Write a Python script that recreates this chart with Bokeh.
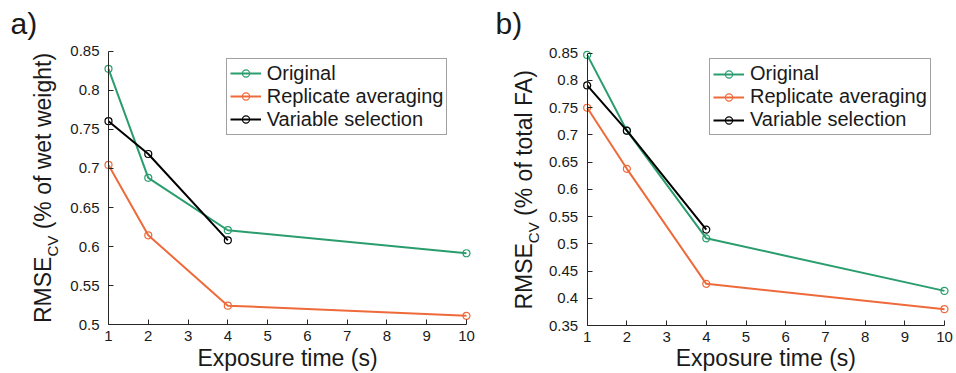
import math
from bokeh.plotting import figure
from bokeh.models import Range1d, FixedTicker, Label, Legend, LegendItem
from bokeh.layouts import row
from bokeh.embed import file_html
from bokeh.resources import INLINE

# ---------------- data ----------------
exposure_time = [1, 2, 4, 10]
exposure_time_vs = [1, 2, 4]

a_original = [0.8275, 0.688, 0.621, 0.5915]
a_replicate = [0.7045, 0.6145, 0.5245, 0.5115]
a_variable = [0.7605, 0.7185, 0.608]

b_original = [0.8465, 0.7075, 0.5100, 0.4135]
b_replicate = [0.7495, 0.6375, 0.4265, 0.3800]
b_variable = [0.7905, 0.7075, 0.5260]

series_names = ["Original", "Replicate averaging", "Variable selection"]
series_colors = ["#2a9d6e", "#ee6a3a", "#000000"]

x_ticks = [1, 2, 3, 4, 5, 6, 7, 8, 9, 10]
x_tick_labels = ["1", "2", "3", "4", "5", "6", "7", "8", "9", "10"]
a_y_ticks = [0.5, 0.55, 0.6, 0.65, 0.7, 0.75, 0.8, 0.85]
a_y_tick_labels = ["0.5", "0.55", "0.6", "0.65", "0.7", "0.75", "0.8", "0.85"]
b_y_ticks = [0.35, 0.4, 0.45, 0.5, 0.55, 0.6, 0.65, 0.7, 0.75, 0.8, 0.85]
b_y_tick_labels = ["0.35", "0.4", "0.45", "0.5", "0.55", "0.6", "0.65", "0.7",
                   "0.75", "0.8", "0.85"]

x_label = "Exposure time (s)"
a_ylabel = ["RMSE", "CV", "(% of wet weight)"]
b_ylabel = ["RMSE", "CV", "(% of total FA)"]
panel_tags = ["a)", "b)"]

# ---------------- styling / layout ----------------
FONT = "Liberation Sans"
TXT = "#1a1a1a"
AXC = "#262626"
W, H = 478, 373
DESC = 0.212  # font descent (em), used to place text by its baseline

# Arial / Liberation Sans advance widths (em)
AW = {'R': .722, 'M': .833, 'S': .667, 'E': .667, 'C': .722, 'V': .667, ' ': .278,
      '(': .333, ')': .333, '%': .889, 'o': .556, 'f': .278, 'w': .722, 'e': .556,
      't': .278, 'i': .222, 'g': .556, 'h': .556, 'a': .556, 'l': .222, 'F': .611,
      'A': .667}


def tw(s, size):
    return sum(AW.get(c, .556) for c in s) * size


def make_panel(ys, yticks, ytick_labels, ylabel, tag, cfg):
    y0, y1 = yticks[0], yticks[-1]
    xa, xb = x_ticks[0], x_ticks[-1]
    ax_l, ax_r, ax_t, ax_b = cfg["ax"]
    # the frame covers the whole figure; axes are pinned at the data origin
    kx = (ax_r - ax_l) / (xb - xa)
    ky = (ax_b - ax_t) / (y1 - y0)
    xr = Range1d(xa - ax_l / kx, xb + (W - ax_r) / kx)
    yr = Range1d(y0 - (H - ax_b) / ky, y1 + ax_t / ky)

    p = figure(width=W, height=H, x_range=xr, y_range=yr, output_backend="svg",
               toolbar_location=None, min_border=0)
    p.title.visible = False
    p.outline_line_color = None
    p.grid.visible = False
    p.background_fill_color = "white"
    p.border_fill_color = "white"

    for ax in (p.xaxis[0], p.yaxis[0]):
        ax.axis_line_color = AXC
        ax.axis_line_width = 1
        ax.major_tick_line_color = AXC
        ax.major_tick_in = 5
        ax.major_tick_out = 0
        ax.minor_tick_line_color = None
        ax.major_label_text_font = FONT
        ax.major_label_text_font_size = "15px"
        ax.major_label_text_color = TXT
    p.xaxis.ticker = FixedTicker(ticks=x_ticks)
    p.xaxis.major_label_overrides = {t: s for t, s in zip(x_ticks, x_tick_labels)}
    p.yaxis.ticker = FixedTicker(ticks=yticks)
    p.yaxis.major_label_overrides = {t: s for t, s in zip(yticks, ytick_labels)}
    p.xaxis.bounds = (xa, xb)
    p.yaxis.bounds = (y0, y1)
    p.xaxis.fixed_location = y0
    p.yaxis.fixed_location = xa
    p.xaxis.major_label_standoff = 6
    p.yaxis.major_label_standoff = 9

    items = []
    data = [(exposure_time, ys[0]), (exposure_time, ys[1]), (exposure_time_vs, ys[2])]
    for (xs, yv), name, col in zip(data, series_names, series_colors):
        ln = p.line(xs, yv, line_color=col, line_width=2)
        mk = p.scatter(xs, yv, marker="circle", size=7, line_color=col,
                       fill_color=None, line_width=1.2)
        items.append(LegendItem(label=name, renderers=[ln, mk]))

    fsz, pad_l, spacing = 20, 3, 0
    row_h = fsz * 1.14
    leg_h = 2 * pad_l + 3 * row_h + 2 * spacing
    lx, ly = cfg["legend"]
    leg = Legend(items=items, location=(lx, H - (ly + leg_h)),
                 label_text_font=FONT, label_text_font_size=f"{fsz}px",
                 label_text_color=TXT, glyph_width=31, glyph_height=18,
                 label_height=18, spacing=spacing, padding=pad_l, margin=0,
                 label_standoff=6, border_line_color="#444444", border_line_width=1,
                 background_fill_color="white", background_fill_alpha=1.0)
    p.add_layout(leg)

    def lab(cx, cy, text, size, rotated=False, **kw):
        # (cx, cy): baseline anchor in canvas pixels from the top-left corner
        d = DESC * size
        if rotated:
            sx, sy = cx - d, H - cy
        else:
            sx, sy = cx, H - (cy + d)
        p.add_layout(Label(x=sx, y=sy, x_units="screen", y_units="screen",
                           text=text, text_font=FONT, text_font_size=f"{size}px",
                           text_color=TXT, text_baseline="bottom",
                           angle=math.pi / 2 if rotated else 0, **kw))

    # panel tag
    tx, ty = cfg["tag"]
    lab(tx, ty, tag, 30, text_align="left")
    # x label
    lab((ax_l + ax_r) / 2, 366, x_label, 23, text_align="center")
    # y label pieces (rotated)
    big, small = 23, 15
    total = tw(ylabel[0], big) + tw(ylabel[1], small) + tw(" " + ylabel[2], big)
    start = (ax_t + ax_b) / 2 + total / 2
    bx = cfg["ylab_x"]
    lab(bx, start, ylabel[0], big, rotated=True, text_align="left")
    s2 = start - tw(ylabel[0], big)
    lab(bx + 3.5, s2, ylabel[1], small, rotated=True, text_align="left")
    s3 = s2 - tw(ylabel[1], small) - tw(" ", big)
    lab(bx, s3, ylabel[2], big, rotated=True, text_align="left")
    return p


cfg_a = dict(ax=(108, 466, 50.7, 324.3), legend=(225.7, 60.3), ylab_x=60.0, tag=(10, 33))
cfg_b = dict(ax=(108.7, 466, 52.5, 325), legend=(231, 60.7), ylab_x=63.5, tag=(17, 33))

pa = make_panel([a_original, a_replicate, a_variable], a_y_ticks, a_y_tick_labels,
                a_ylabel, panel_tags[0], cfg_a)
pb = make_panel([b_original, b_replicate, b_variable], b_y_ticks, b_y_tick_labels,
                b_ylabel, panel_tags[1], cfg_b)

layout = row(pa, pb)
open("out.html", "w").write(file_html(layout, INLINE))
